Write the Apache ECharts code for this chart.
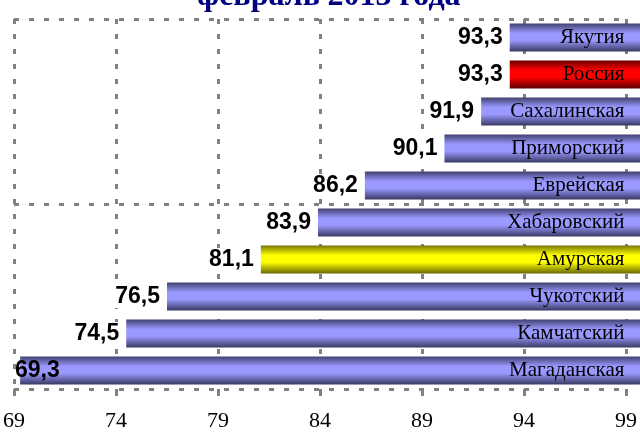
<!DOCTYPE html>
<html>
<head>
<meta charset="utf-8">
<script src="https://cdn.jsdelivr.net/npm/echarts@6/dist/echarts.min.js"></script>
<style>
html,body{margin:0;padding:0;background:#fff;}
#c{width:640px;height:432px;}
</style>
</head>
<body>
<div id="c"></div>
<script>
// ---- data ----
const titleText = 'февраль 2013 года';
const regions = ['Якутия', 'Россия', 'Сахалинская', 'Приморский', 'Еврейская', 'Хабаровский', 'Амурская', 'Чукотский', 'Камчатский', 'Магаданская'];
const values = [93.3, 93.3, 91.9, 90.1, 86.2, 83.9, 81.1, 76.5, 74.5, 69.3];
const axisMin = 69;
const axisMax = 99;
const axisStep = 5;
const barEnd = 100;

// ---- styles ----
function grad(edgeTop, mid, edgeBot) {
  return new echarts.graphic.LinearGradient(0, 0, 0, 1, [
    { offset: 0, color: edgeTop },
    { offset: 0.35, color: mid },
    { offset: 0.6, color: mid },
    { offset: 1, color: edgeBot }
  ]);
}
const defaultFill = grad('#40406e', '#9999ff', '#383862');
const specialFill = {
  'Россия': grad('#6a0000', '#ff0000', '#5a0000'),
  'Амурская': grad('#767600', '#ffff00', '#666600')
};
const dashStyle = { color: '#808080', width: 3, type: [5, 10] };

const chart = echarts.init(document.getElementById('c'));
chart.setOption({
  animation: false,
  title: {
    text: titleText,
    left: 192,
    top: -24,
    textStyle: { fontFamily: 'Liberation Serif', fontWeight: 'bold', fontSize: 32, color: '#000080' }
  },
  grid: { left: 10.5, right: 13, top: 19, bottom: 42, containLabel: false },
  xAxis: {
    type: 'value',
    min: axisMin,
    max: axisMax,
    interval: axisStep,
    axisLine: { show: false },
    axisTick: { show: true, length: 7, lineStyle: { color: '#808080', width: 3 } },
    axisLabel: { margin: 21, fontFamily: 'Liberation Serif', fontSize: 22, color: '#000' },
    splitLine: { show: true, lineStyle: dashStyle }
  },
  yAxis: {
    type: 'category',
    inverse: true,
    data: regions,
    axisLine: { show: false },
    axisTick: { show: false },
    axisLabel: { show: false },
    splitLine: { show: true, interval: (i) => i % 5 === 0, lineStyle: dashStyle }
  },
  series: [
    {
      type: 'bar',
      stack: 's',
      barWidth: '76%',
      data: values.map((v, i) => ({
        value: v,
        label: v - axisMin < 2
          ? { position: 'insideLeft', offset: [-6, 0], backgroundColor: 'transparent' }
          : undefined
      })),
      itemStyle: { color: 'rgba(0,0,0,0)' },
      label: {
        show: true,
        position: 'insideRight',
        distance: 6,
        formatter: (p) => String(values[p.dataIndex]).replace('.', ','),
        fontFamily: 'Liberation Sans',
        fontWeight: 'bold',
        fontSize: 23,
        color: '#000',
        backgroundColor: '#fff',
        padding: [0, 1]
      },
      z: 3
    },
    {
      type: 'bar',
      stack: 's',
      clip: false,
      data: values.map((v, i) => ({
        value: barEnd - v,
        itemStyle: { color: specialFill[regions[i]] || defaultFill }
      })),
      label: {
        show: true,
        position: 'insideRight',
        distance: 22,
        formatter: (p) => regions[p.dataIndex],
        fontFamily: 'Liberation Serif',
        fontSize: 21,
        color: '#000'
      },
      z: 2
    }
  ]
});
</script>
</body>
</html>
